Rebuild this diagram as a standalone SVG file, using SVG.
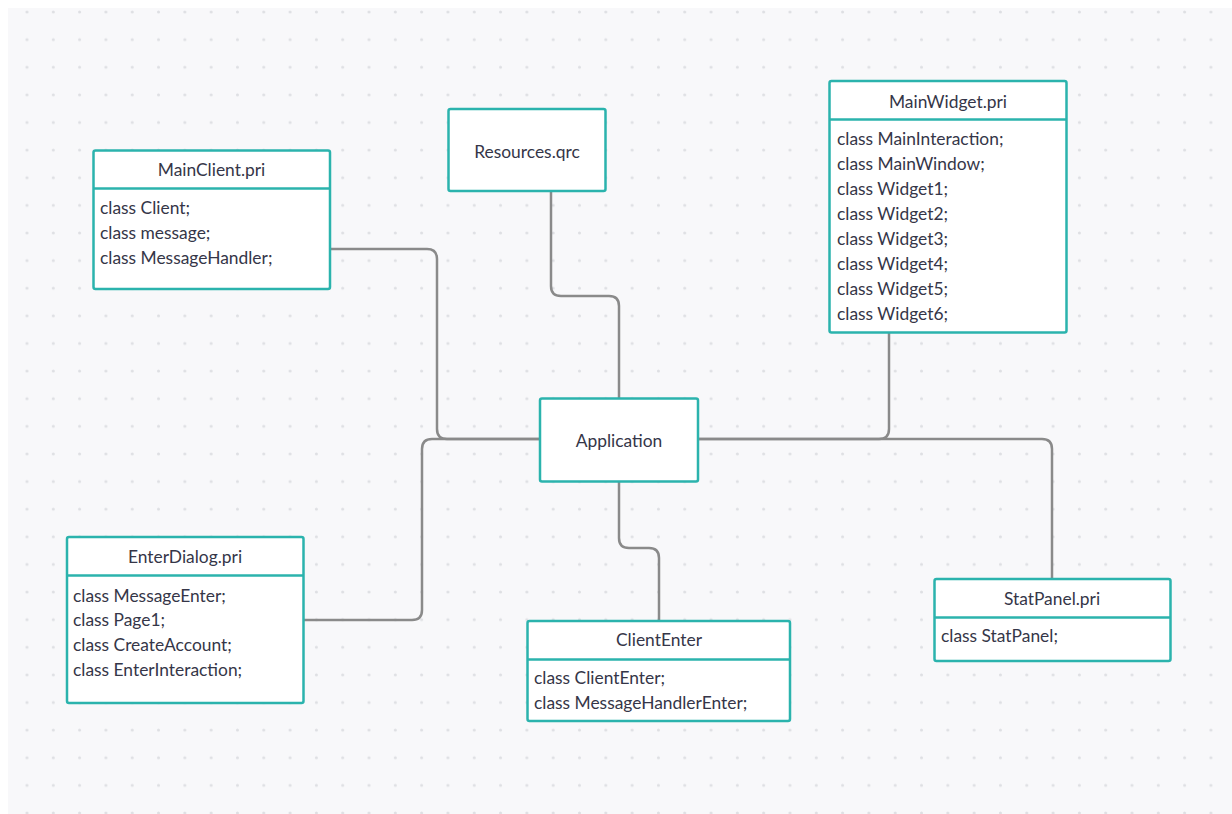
<svg xmlns="http://www.w3.org/2000/svg" width="1232" height="814" viewBox="0 0 1232 814">
  <defs>
    <pattern id="dots" patternUnits="userSpaceOnUse" x="13.845" y="-1.81" width="26.31" height="27.62">
      <circle cx="13.155" cy="13.81" r="1.5" fill="#dedfe3"/>
    </pattern>
    <style>
      .box { fill: #ffffff; stroke: #2bb3ad; stroke-width: 2.5; }
      .div { stroke: #2bb3ad; stroke-width: 2.5; }
      .conn { fill: none; stroke: #8a8a8a; stroke-width: 2.5; stroke-linejoin: round; }
      .t { font-family: Lato, "Liberation Sans", sans-serif; font-size: 17.4px; fill: #353648; }
      .c { text-anchor: middle; }
    </style>
  </defs>
  <rect x="0" y="0" width="1232" height="814" fill="#ffffff"/>
  <rect x="8" y="8" width="1224" height="806" fill="#f8f8fa"/>
  <rect x="8" y="8" width="1224" height="806" fill="url(#dots)"/>

  <g id="connectors">
    <path class="conn" d="M330,249 H427 Q437,249 437,259 V429 Q437,439 447,439 H540"/>
    <path class="conn" d="M303,620 H412 Q422,620 422,610 V449 Q422,439 432,439 H540"/>
    <path class="conn" d="M551,191 V286 Q551,296 561,296 H609 Q619,296 619,306 V398"/>
    <path class="conn" d="M889,333 V429 Q889,439 879,439 H698"/>
    <path class="conn" d="M698,439 H1042 Q1052,439 1052,449 V579"/>
    <path class="conn" d="M619,482 V538 Q619,548 629,548 H649 Q659,548 659,558 V621"/>
  </g>

  <g id="mainclient">
    <rect class="box" x="93.5" y="150.5" width="236.5" height="138.5" rx="2"/>
    <line class="div" x1="93.5" y1="188.5" x2="330" y2="188.5"/>
    <text class="t c" x="211.5" y="175.5">MainClient.pri</text>
    <text class="t" x="100" y="214">class Client;</text>
    <text class="t" x="100" y="239">class message;</text>
    <text class="t" x="100" y="264">class MessageHandler;</text>
  </g>

  <g id="resources">
    <rect class="box" x="448.5" y="109" width="157" height="82" rx="2"/>
    <text class="t c" x="527" y="157.5">Resources.qrc</text>
  </g>

  <g id="mainwidget">
    <rect class="box" x="829.5" y="81" width="237" height="251.5" rx="2"/>
    <line class="div" x1="829.5" y1="119.5" x2="1066.5" y2="119.5"/>
    <text class="t c" x="948" y="107.5">MainWidget.pri</text>
    <text class="t" x="837" y="145">class MainInteraction;</text>
    <text class="t" x="837" y="170">class MainWindow;</text>
    <text class="t" x="837" y="195">class Widget1;</text>
    <text class="t" x="837" y="220">class Widget2;</text>
    <text class="t" x="837" y="245">class Widget3;</text>
    <text class="t" x="837" y="270">class Widget4;</text>
    <text class="t" x="837" y="295">class Widget5;</text>
    <text class="t" x="837" y="320">class Widget6;</text>
  </g>

  <g id="application">
    <rect class="box" x="540" y="398.5" width="158" height="83" rx="2"/>
    <text class="t c" x="619" y="447">Application</text>
  </g>

  <g id="enterdialog">
    <rect class="box" x="67" y="537" width="236.5" height="166" rx="2"/>
    <line class="div" x1="67" y1="575.5" x2="303.5" y2="575.5"/>
    <text class="t c" x="185" y="563">EnterDialog.pri</text>
    <text class="t" x="73" y="602">class MessageEnter;</text>
    <text class="t" x="73" y="626">class Page1;</text>
    <text class="t" x="73" y="651">class CreateAccount;</text>
    <text class="t" x="73" y="676">class EnterInteraction;</text>
  </g>

  <g id="cliententer">
    <rect class="box" x="527.5" y="621" width="262.5" height="100" rx="2"/>
    <line class="div" x1="527.5" y1="659.5" x2="790" y2="659.5"/>
    <text class="t c" x="659" y="646">ClientEnter</text>
    <text class="t" x="534" y="684">class ClientEnter;</text>
    <text class="t" x="534" y="709">class MessageHandlerEnter;</text>
  </g>

  <g id="statpanel">
    <rect class="box" x="934.5" y="579" width="236" height="82" rx="2"/>
    <line class="div" x1="934.5" y1="617.5" x2="1170.5" y2="617.5"/>
    <text class="t c" x="1052" y="605">StatPanel.pri</text>
    <text class="t" x="941" y="642">class StatPanel;</text>
  </g>
</svg>
